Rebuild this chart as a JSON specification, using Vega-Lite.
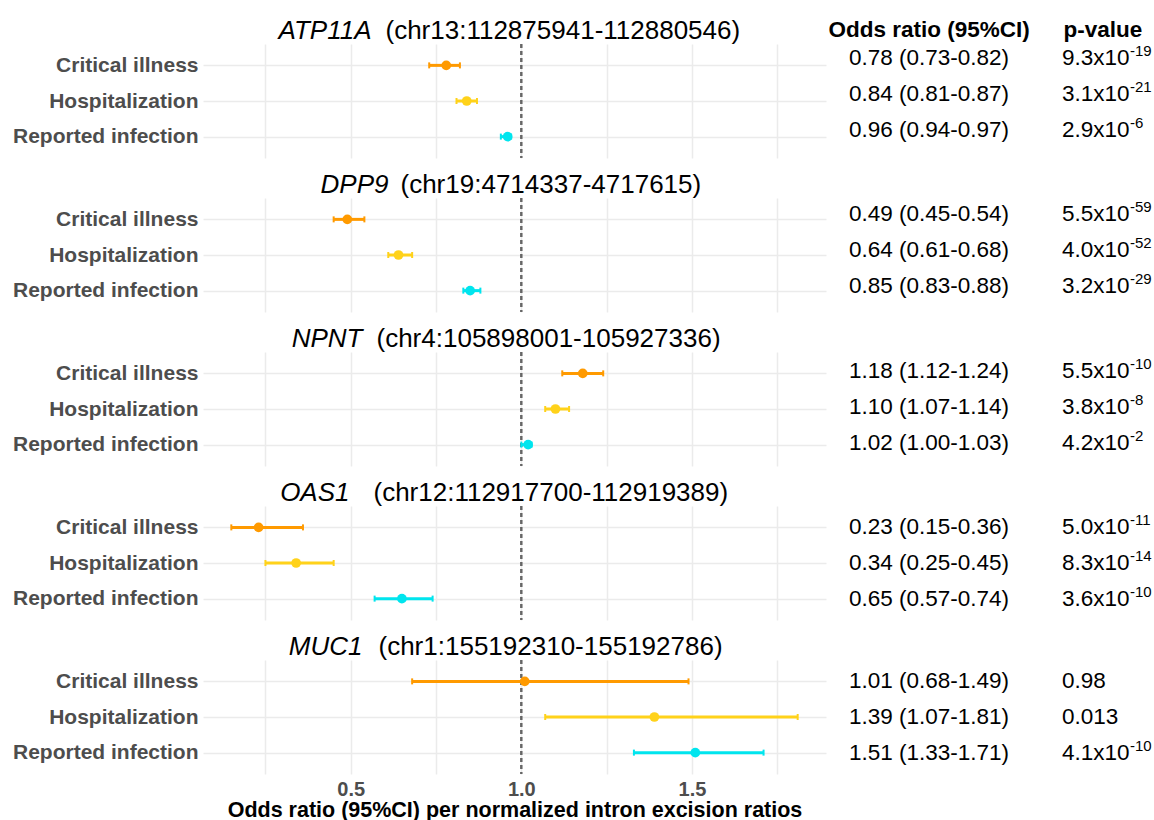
{
  "$schema": "https://vega.github.io/schema/vega-lite/v6.json",
  "padding": {"top": 17, "left": 12, "right": 0, "bottom": 0},
  "background": "white",
  "datasets": {
    "d": [
      {"gene": "ATP11A", "outcome": "Critical illness", "or": 0.78, "lo": 0.73, "hi": 0.82, "orci": "0.78 (0.73-0.82)", "pb": "9.3x10", "pe": "-19"},
      {"gene": "ATP11A", "outcome": "Hospitalization", "or": 0.84, "lo": 0.81, "hi": 0.87, "orci": "0.84 (0.81-0.87)", "pb": "3.1x10", "pe": "-21"},
      {"gene": "ATP11A", "outcome": "Reported infection", "or": 0.96, "lo": 0.94, "hi": 0.97, "orci": "0.96 (0.94-0.97)", "pb": "2.9x10", "pe": "-6"},
      {"gene": "DPP9", "outcome": "Critical illness", "or": 0.49, "lo": 0.45, "hi": 0.54, "orci": "0.49 (0.45-0.54)", "pb": "5.5x10", "pe": "-59"},
      {"gene": "DPP9", "outcome": "Hospitalization", "or": 0.64, "lo": 0.61, "hi": 0.68, "orci": "0.64 (0.61-0.68)", "pb": "4.0x10", "pe": "-52"},
      {"gene": "DPP9", "outcome": "Reported infection", "or": 0.85, "lo": 0.83, "hi": 0.88, "orci": "0.85 (0.83-0.88)", "pb": "3.2x10", "pe": "-29"},
      {"gene": "NPNT", "outcome": "Critical illness", "or": 1.18, "lo": 1.12, "hi": 1.24, "orci": "1.18 (1.12-1.24)", "pb": "5.5x10", "pe": "-10"},
      {"gene": "NPNT", "outcome": "Hospitalization", "or": 1.10, "lo": 1.07, "hi": 1.14, "orci": "1.10 (1.07-1.14)", "pb": "3.8x10", "pe": "-8"},
      {"gene": "NPNT", "outcome": "Reported infection", "or": 1.02, "lo": 1.00, "hi": 1.03, "orci": "1.02 (1.00-1.03)", "pb": "4.2x10", "pe": "-2"},
      {"gene": "OAS1", "outcome": "Critical illness", "or": 0.23, "lo": 0.15, "hi": 0.36, "orci": "0.23 (0.15-0.36)", "pb": "5.0x10", "pe": "-11"},
      {"gene": "OAS1", "outcome": "Hospitalization", "or": 0.34, "lo": 0.25, "hi": 0.45, "orci": "0.34 (0.25-0.45)", "pb": "8.3x10", "pe": "-14"},
      {"gene": "OAS1", "outcome": "Reported infection", "or": 0.65, "lo": 0.57, "hi": 0.74, "orci": "0.65 (0.57-0.74)", "pb": "3.6x10", "pe": "-10"},
      {"gene": "MUC1", "outcome": "Critical illness", "or": 1.01, "lo": 0.68, "hi": 1.49, "orci": "1.01 (0.68-1.49)", "pb": "0.98", "pe": ""},
      {"gene": "MUC1", "outcome": "Hospitalization", "or": 1.39, "lo": 1.07, "hi": 1.81, "orci": "1.39 (1.07-1.81)", "pb": "0.013", "pe": ""},
      {"gene": "MUC1", "outcome": "Reported infection", "or": 1.51, "lo": 1.33, "hi": 1.71, "orci": "1.51 (1.33-1.71)", "pb": "4.1x10", "pe": "-10"}
    ]
  },
  "spacing": 12,
  "vconcat": [
    {
      "bounds": "flush", "spacing": 23,
      "hconcat": [
        {
          "width": 623, "height": 114,
          "data": {"name": "d"},
          "transform": [{"filter": "datum.gene == 'ATP11A'"}],
          "layer": [
            {"mark": {"type": "rule", "color": "#666666", "strokeDash": [4, 3], "strokeWidth": 1.8},
             "encoding": {"x": {"datum": 1, "type": "quantitative", "scale": {"domain": [0.067, 1.893], "nice": false, "zero": false}, "axis": {"values": [0.25, 0.5, 0.75, 1, 1.25, 1.5, 1.75], "labels": false, "title": null, "grid": true}}}},
            {
              "encoding": {
                "y": {"field": "outcome", "type": "nominal", "scale": {"type": "point", "domain": ["Critical illness", "Hospitalization", "Reported infection"], "padding": 0.6},
                      "axis": {"title": "ATP11A", "titleX": 168, "titleY": -6, "titleAlign": "right", "titleAngle": 0, "titleBaseline": "alphabetic", "titleFontStyle": "italic", "grid": true}},
                "color": {"field": "outcome", "type": "nominal", "scale": {"domain": ["Critical illness", "Hospitalization", "Reported infection"], "range": ["#FF9A00", "#FFD21A", "#00E5EE"]}, "legend": null}
              },
              "layer": [
                {"mark": {"type": "rule", "strokeWidth": 3}, "encoding": {"x": {"field": "lo", "type": "quantitative", "scale": {"domain": [0.067, 1.893], "nice": false, "zero": false}}, "x2": {"field": "hi"}}},
                {"mark": {"type": "tick", "size": 6, "thickness": 2, "opacity": 1}, "encoding": {"x": {"field": "lo", "type": "quantitative", "scale": {"domain": [0.067, 1.893], "nice": false, "zero": false}}}},
                {"mark": {"type": "tick", "size": 6, "thickness": 2, "opacity": 1}, "encoding": {"x": {"field": "hi", "type": "quantitative", "scale": {"domain": [0.067, 1.893], "nice": false, "zero": false}}}},
                {"mark": {"type": "circle", "size": 95, "opacity": 1}, "encoding": {"x": {"field": "or", "type": "quantitative", "scale": {"domain": [0.067, 1.893], "nice": false, "zero": false}}}}
              ]
            }
          ]
        },
        {
          "width": 213, "height": 114,
          "data": {"name": "d"},
          "transform": [{"filter": "datum.gene == 'ATP11A'"}],
          "encoding": {
            "y": {"field": "outcome", "type": "nominal", "scale": {"type": "point", "domain": ["Critical illness", "Hospitalization", "Reported infection"], "padding": 0.6},
                  "axis": {"title": "(chr13:112875941-112880546)", "labels": false, "grid": false, "titleX": -464, "titleY": -6, "titleAlign": "left", "titleAngle": 0, "titleBaseline": "alphabetic", "titleFontStyle": "normal"}}
          },
          "layer": [
            {
              "transform": [{"fold": ["orci", "pb"], "as": ["col", "label"]}],
              "mark": {"type": "text", "align": "left", "baseline": "middle", "dy": -7, "fontSize": 22.5, "color": "#000000"},
              "encoding": {
                "x": {"field": "col", "type": "nominal", "scale": {"type": "point", "domain": ["orci", "pb"], "padding": 0},
                      "axis": {"orient": "top", "labelExpr": "datum.value == 'orci' ? 'Odds ratio (95%CI)' : 'p-value'", "labelFontSize": 22.5, "labelFontWeight": "bold", "labelColor": "#000000", "labelBaseline": "alphabetic", "labelPadding": 8, "labelLimit": 0, "labelAngle": 0, "labelAlign": "left", "labelOverlap": false, "labelOffset": {"condition": {"test": "datum.value == 'orci'", "value": -21}, "value": 1}, "title": null, "grid": false}},
                "text": {"field": "label"}
              }
            },
            {
              "mark": {"type": "text", "align": "left", "baseline": "middle", "dx": 68, "dy": -14, "fontSize": 15, "color": "#000000"},
              "encoding": {
                "x": {"datum": "pb", "type": "nominal", "scale": {"type": "point", "domain": ["orci", "pb"], "padding": 0},
                      "axis": {"orient": "top", "labelExpr": "datum.value == 'orci' ? 'Odds ratio (95%CI)' : 'p-value'", "labelFontSize": 22.5, "labelFontWeight": "bold", "labelColor": "#000000", "labelBaseline": "alphabetic", "labelPadding": 8, "labelLimit": 0, "labelAngle": 0, "labelAlign": "left", "labelOverlap": false, "labelOffset": {"condition": {"test": "datum.value == 'orci'", "value": -21}, "value": 1}, "title": null, "grid": false}},
                "text": {"field": "pe"}
              }
            }
          ]
        }
      ]
    },
    {
      "bounds": "flush", "spacing": 23,
      "hconcat": [
        {
          "width": 623, "height": 114,
          "data": {"name": "d"},
          "transform": [{"filter": "datum.gene == 'DPP9'"}],
          "layer": [
            {"mark": {"type": "rule", "color": "#666666", "strokeDash": [4, 3], "strokeWidth": 1.8},
             "encoding": {"x": {"datum": 1, "type": "quantitative", "scale": {"domain": [0.067, 1.893], "nice": false, "zero": false}, "axis": {"values": [0.25, 0.5, 0.75, 1, 1.25, 1.5, 1.75], "labels": false, "title": null, "grid": true}}}},
            {
              "encoding": {
                "y": {"field": "outcome", "type": "nominal", "scale": {"type": "point", "domain": ["Critical illness", "Hospitalization", "Reported infection"], "padding": 0.6},
                      "axis": {"title": "DPP9", "titleX": 185, "titleY": -6, "titleAlign": "right", "titleAngle": 0, "titleBaseline": "alphabetic", "titleFontStyle": "italic", "grid": true}},
                "color": {"field": "outcome", "type": "nominal", "scale": {"domain": ["Critical illness", "Hospitalization", "Reported infection"], "range": ["#FF9A00", "#FFD21A", "#00E5EE"]}, "legend": null}
              },
              "layer": [
                {"mark": {"type": "rule", "strokeWidth": 3}, "encoding": {"x": {"field": "lo", "type": "quantitative", "scale": {"domain": [0.067, 1.893], "nice": false, "zero": false}}, "x2": {"field": "hi"}}},
                {"mark": {"type": "tick", "size": 6, "thickness": 2, "opacity": 1}, "encoding": {"x": {"field": "lo", "type": "quantitative", "scale": {"domain": [0.067, 1.893], "nice": false, "zero": false}}}},
                {"mark": {"type": "tick", "size": 6, "thickness": 2, "opacity": 1}, "encoding": {"x": {"field": "hi", "type": "quantitative", "scale": {"domain": [0.067, 1.893], "nice": false, "zero": false}}}},
                {"mark": {"type": "circle", "size": 95, "opacity": 1}, "encoding": {"x": {"field": "or", "type": "quantitative", "scale": {"domain": [0.067, 1.893], "nice": false, "zero": false}}}}
              ]
            }
          ]
        },
        {
          "width": 213, "height": 114,
          "data": {"name": "d"},
          "transform": [{"filter": "datum.gene == 'DPP9'"}],
          "encoding": {
            "y": {"field": "outcome", "type": "nominal", "scale": {"type": "point", "domain": ["Critical illness", "Hospitalization", "Reported infection"], "padding": 0.6},
                  "axis": {"title": "(chr19:4714337-4717615)", "labels": false, "grid": false, "titleX": -449, "titleY": -6, "titleAlign": "left", "titleAngle": 0, "titleBaseline": "alphabetic", "titleFontStyle": "normal"}}
          },
          "layer": [
            {
              "transform": [{"fold": ["orci", "pb"], "as": ["col", "label"]}],
              "mark": {"type": "text", "align": "left", "baseline": "middle", "dy": -5, "fontSize": 22.5, "color": "#000000"},
              "encoding": {
                "x": {"field": "col", "type": "nominal", "scale": {"type": "point", "domain": ["orci", "pb"], "padding": 0}, "axis": null},
                "text": {"field": "label"}
              }
            },
            {
              "mark": {"type": "text", "align": "left", "baseline": "middle", "dx": 68, "dy": -12, "fontSize": 15, "color": "#000000"},
              "encoding": {
                "x": {"datum": "pb", "type": "nominal", "scale": {"type": "point", "domain": ["orci", "pb"], "padding": 0}, "axis": null},
                "text": {"field": "pe"}
              }
            }
          ]
        }
      ]
    },
    {
      "bounds": "flush", "spacing": 23,
      "hconcat": [
        {
          "width": 623, "height": 114,
          "data": {"name": "d"},
          "transform": [{"filter": "datum.gene == 'NPNT'"}],
          "layer": [
            {"mark": {"type": "rule", "color": "#666666", "strokeDash": [4, 3], "strokeWidth": 1.8},
             "encoding": {"x": {"datum": 1, "type": "quantitative", "scale": {"domain": [0.067, 1.893], "nice": false, "zero": false}, "axis": {"values": [0.25, 0.5, 0.75, 1, 1.25, 1.5, 1.75], "labels": false, "title": null, "grid": true}}}},
            {
              "encoding": {
                "y": {"field": "outcome", "type": "nominal", "scale": {"type": "point", "domain": ["Critical illness", "Hospitalization", "Reported infection"], "padding": 0.6},
                      "axis": {"title": "NPNT", "titleX": 159, "titleY": -6, "titleAlign": "right", "titleAngle": 0, "titleBaseline": "alphabetic", "titleFontStyle": "italic", "grid": true}},
                "color": {"field": "outcome", "type": "nominal", "scale": {"domain": ["Critical illness", "Hospitalization", "Reported infection"], "range": ["#FF9A00", "#FFD21A", "#00E5EE"]}, "legend": null}
              },
              "layer": [
                {"mark": {"type": "rule", "strokeWidth": 3}, "encoding": {"x": {"field": "lo", "type": "quantitative", "scale": {"domain": [0.067, 1.893], "nice": false, "zero": false}}, "x2": {"field": "hi"}}},
                {"mark": {"type": "tick", "size": 6, "thickness": 2, "opacity": 1}, "encoding": {"x": {"field": "lo", "type": "quantitative", "scale": {"domain": [0.067, 1.893], "nice": false, "zero": false}}}},
                {"mark": {"type": "tick", "size": 6, "thickness": 2, "opacity": 1}, "encoding": {"x": {"field": "hi", "type": "quantitative", "scale": {"domain": [0.067, 1.893], "nice": false, "zero": false}}}},
                {"mark": {"type": "circle", "size": 95, "opacity": 1}, "encoding": {"x": {"field": "or", "type": "quantitative", "scale": {"domain": [0.067, 1.893], "nice": false, "zero": false}}}}
              ]
            }
          ]
        },
        {
          "width": 213, "height": 114,
          "data": {"name": "d"},
          "transform": [{"filter": "datum.gene == 'NPNT'"}],
          "encoding": {
            "y": {"field": "outcome", "type": "nominal", "scale": {"type": "point", "domain": ["Critical illness", "Hospitalization", "Reported infection"], "padding": 0.6},
                  "axis": {"title": "(chr4:105898001-105927336)", "labels": false, "grid": false, "titleX": -473, "titleY": -6, "titleAlign": "left", "titleAngle": 0, "titleBaseline": "alphabetic", "titleFontStyle": "normal"}}
          },
          "layer": [
            {
              "transform": [{"fold": ["orci", "pb"], "as": ["col", "label"]}],
              "mark": {"type": "text", "align": "left", "baseline": "middle", "dy": -2, "fontSize": 22.5, "color": "#000000"},
              "encoding": {
                "x": {"field": "col", "type": "nominal", "scale": {"type": "point", "domain": ["orci", "pb"], "padding": 0}, "axis": null},
                "text": {"field": "label"}
              }
            },
            {
              "mark": {"type": "text", "align": "left", "baseline": "middle", "dx": 68, "dy": -9, "fontSize": 15, "color": "#000000"},
              "encoding": {
                "x": {"datum": "pb", "type": "nominal", "scale": {"type": "point", "domain": ["orci", "pb"], "padding": 0}, "axis": null},
                "text": {"field": "pe"}
              }
            }
          ]
        }
      ]
    },
    {
      "bounds": "flush", "spacing": 23,
      "hconcat": [
        {
          "width": 623, "height": 114,
          "data": {"name": "d"},
          "transform": [{"filter": "datum.gene == 'OAS1'"}],
          "layer": [
            {"mark": {"type": "rule", "color": "#666666", "strokeDash": [4, 3], "strokeWidth": 1.8},
             "encoding": {"x": {"datum": 1, "type": "quantitative", "scale": {"domain": [0.067, 1.893], "nice": false, "zero": false}, "axis": {"values": [0.25, 0.5, 0.75, 1, 1.25, 1.5, 1.75], "labels": false, "title": null, "grid": true}}}},
            {
              "encoding": {
                "y": {"field": "outcome", "type": "nominal", "scale": {"type": "point", "domain": ["Critical illness", "Hospitalization", "Reported infection"], "padding": 0.6},
                      "axis": {"title": "OAS1", "titleX": 146, "titleY": -6, "titleAlign": "right", "titleAngle": 0, "titleBaseline": "alphabetic", "titleFontStyle": "italic", "grid": true}},
                "color": {"field": "outcome", "type": "nominal", "scale": {"domain": ["Critical illness", "Hospitalization", "Reported infection"], "range": ["#FF9A00", "#FFD21A", "#00E5EE"]}, "legend": null}
              },
              "layer": [
                {"mark": {"type": "rule", "strokeWidth": 3}, "encoding": {"x": {"field": "lo", "type": "quantitative", "scale": {"domain": [0.067, 1.893], "nice": false, "zero": false}}, "x2": {"field": "hi"}}},
                {"mark": {"type": "tick", "size": 6, "thickness": 2, "opacity": 1}, "encoding": {"x": {"field": "lo", "type": "quantitative", "scale": {"domain": [0.067, 1.893], "nice": false, "zero": false}}}},
                {"mark": {"type": "tick", "size": 6, "thickness": 2, "opacity": 1}, "encoding": {"x": {"field": "hi", "type": "quantitative", "scale": {"domain": [0.067, 1.893], "nice": false, "zero": false}}}},
                {"mark": {"type": "circle", "size": 95, "opacity": 1}, "encoding": {"x": {"field": "or", "type": "quantitative", "scale": {"domain": [0.067, 1.893], "nice": false, "zero": false}}}}
              ]
            }
          ]
        },
        {
          "width": 213, "height": 114,
          "data": {"name": "d"},
          "transform": [{"filter": "datum.gene == 'OAS1'"}],
          "encoding": {
            "y": {"field": "outcome", "type": "nominal", "scale": {"type": "point", "domain": ["Critical illness", "Hospitalization", "Reported infection"], "padding": 0.6},
                  "axis": {"title": "(chr12:112917700-112919389)", "labels": false, "grid": false, "titleX": -476, "titleY": -6, "titleAlign": "left", "titleAngle": 0, "titleBaseline": "alphabetic", "titleFontStyle": "normal"}}
          },
          "layer": [
            {
              "transform": [{"fold": ["orci", "pb"], "as": ["col", "label"]}],
              "mark": {"type": "text", "align": "left", "baseline": "middle", "fontSize": 22.5, "color": "#000000"},
              "encoding": {
                "x": {"field": "col", "type": "nominal", "scale": {"type": "point", "domain": ["orci", "pb"], "padding": 0}, "axis": null},
                "text": {"field": "label"}
              }
            },
            {
              "mark": {"type": "text", "align": "left", "baseline": "middle", "dx": 68, "dy": -7, "fontSize": 15, "color": "#000000"},
              "encoding": {
                "x": {"datum": "pb", "type": "nominal", "scale": {"type": "point", "domain": ["orci", "pb"], "padding": 0}, "axis": null},
                "text": {"field": "pe"}
              }
            }
          ]
        }
      ]
    },
    {
      "bounds": "flush", "spacing": 23,
      "hconcat": [
        {
          "width": 623, "height": 114,
          "data": {"name": "d"},
          "transform": [{"filter": "datum.gene == 'MUC1'"}],
          "layer": [
            {"mark": {"type": "rule", "color": "#666666", "strokeDash": [4, 3], "strokeWidth": 1.8},
             "encoding": {"x": {"datum": 1, "type": "quantitative", "scale": {"domain": [0.067, 1.893], "nice": false, "zero": false},
               "axis": {"values": [0.25, 0.5, 0.75, 1, 1.25, 1.5, 1.75], "labels": true, "labelExpr": "(datum.value == 0.5 || datum.value == 1 || datum.value == 1.5) ? format(datum.value, '.1f') : ''", "labelOverlap": false, "labelFlush": false, "labelFontSize": 20, "labelFontWeight": "bold", "labelColor": "#4D4D4D", "labelPadding": 5, "title": "Odds ratio (95%CI) per normalized intron excision ratios", "titleFontSize": 21.5, "titleFontWeight": "bold", "titleColor": "#000000", "titlePadding": 0, "grid": true}}}},
            {
              "encoding": {
                "y": {"field": "outcome", "type": "nominal", "scale": {"type": "point", "domain": ["Critical illness", "Hospitalization", "Reported infection"], "padding": 0.6},
                      "axis": {"title": "MUC1", "titleX": 159, "titleY": -6, "titleAlign": "right", "titleAngle": 0, "titleBaseline": "alphabetic", "titleFontStyle": "italic", "grid": true}},
                "color": {"field": "outcome", "type": "nominal", "scale": {"domain": ["Critical illness", "Hospitalization", "Reported infection"], "range": ["#FF9A00", "#FFD21A", "#00E5EE"]}, "legend": null}
              },
              "layer": [
                {"mark": {"type": "rule", "strokeWidth": 3}, "encoding": {"x": {"field": "lo", "type": "quantitative", "scale": {"domain": [0.067, 1.893], "nice": false, "zero": false}}, "x2": {"field": "hi"}}},
                {"mark": {"type": "tick", "size": 6, "thickness": 2, "opacity": 1}, "encoding": {"x": {"field": "lo", "type": "quantitative", "scale": {"domain": [0.067, 1.893], "nice": false, "zero": false}}}},
                {"mark": {"type": "tick", "size": 6, "thickness": 2, "opacity": 1}, "encoding": {"x": {"field": "hi", "type": "quantitative", "scale": {"domain": [0.067, 1.893], "nice": false, "zero": false}}}},
                {"mark": {"type": "circle", "size": 95, "opacity": 1}, "encoding": {"x": {"field": "or", "type": "quantitative", "scale": {"domain": [0.067, 1.893], "nice": false, "zero": false}}}}
              ]
            }
          ]
        },
        {
          "width": 213, "height": 114,
          "data": {"name": "d"},
          "transform": [{"filter": "datum.gene == 'MUC1'"}],
          "encoding": {
            "y": {"field": "outcome", "type": "nominal", "scale": {"type": "point", "domain": ["Critical illness", "Hospitalization", "Reported infection"], "padding": 0.6},
                  "axis": {"title": "(chr1:155192310-155192786)", "labels": false, "grid": false, "titleX": -471, "titleY": -6, "titleAlign": "left", "titleAngle": 0, "titleBaseline": "alphabetic", "titleFontStyle": "normal"}}
          },
          "layer": [
            {
              "transform": [{"fold": ["orci", "pb"], "as": ["col", "label"]}],
              "mark": {"type": "text", "align": "left", "baseline": "middle", "fontSize": 22.5, "color": "#000000"},
              "encoding": {
                "x": {"field": "col", "type": "nominal", "scale": {"type": "point", "domain": ["orci", "pb"], "padding": 0}, "axis": null},
                "text": {"field": "label"}
              }
            },
            {
              "mark": {"type": "text", "align": "left", "baseline": "middle", "dx": 68, "dy": -7, "fontSize": 15, "color": "#000000"},
              "encoding": {
                "x": {"datum": "pb", "type": "nominal", "scale": {"type": "point", "domain": ["orci", "pb"], "padding": 0}, "axis": null},
                "text": {"field": "pe"}
              }
            }
          ]
        }
      ]
    }
  ],
  "config": {
    "font": "Liberation Sans",
    "view": {"stroke": null},
    "axis": {"ticks": false, "domain": false, "gridColor": "#EBEBEB", "gridWidth": 1.5, "labelFont": "Liberation Sans", "titleFont": "Liberation Sans"},
    "axisY": {"titleFontSize": 26, "titleFontWeight": "normal", "titleColor": "#000000", "labelFontSize": 21, "labelFontWeight": "bold", "labelColor": "#4D4D4D", "labelPadding": 5, "labelLimit": 400}
  }
}
